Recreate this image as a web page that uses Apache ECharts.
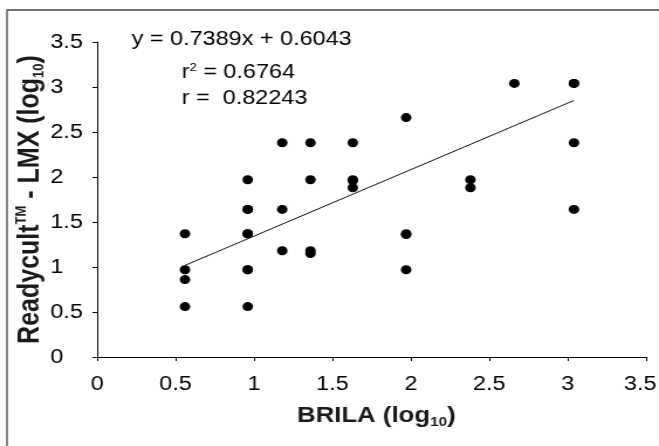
<!DOCTYPE html>
<html>
<head>
<meta charset="utf-8">
<script src="https://cdn.jsdelivr.net/npm/echarts@6/dist/echarts.min.js"></script>
<style>
html,body{margin:0;padding:0;background:#fff;overflow:hidden;}
#wrap{width:659px;height:446px;overflow:hidden;position:relative;}
#chart{width:575px;height:446px;transform:scaleX(1.1705);transform-origin:0 0;}
</style>
</head>
<body>
<div id="wrap"><div id="chart"></div></div>
<script>
// Data (log10 values)
const brilaX = [0.56,0.56,0.56,0.56,
  0.96,0.96,0.96,0.96,0.96,0.96,0.96,0.96,
  1.18,1.18,1.18,
  1.36,1.36,1.36,1.36,
  1.63,1.63,1.63,1.63,
  1.97,1.97,1.97,1.97,
  2.38,2.38,
  2.66,
  3.04,3.04,3.04,3.04];
const readycultY = [1.37,0.97,0.86,0.56,
  1.97,1.64,1.64,1.37,1.37,0.97,0.97,0.56,
  2.38,1.64,1.18,
  2.38,1.97,1.18,1.15,
  2.38,1.97,1.96,1.88,
  2.66,1.37,1.36,0.97,
  1.97,1.88,
  3.04,
  3.04,3.04,2.38,1.64];
const slope = 0.7389;
const intercept = 0.6043;
const rSquared = '0.6764';
const rValue = '0.82243';
const axisTicks = [0,0.5,1,1.5,2,2.5,3,3.5];

const pts = brilaX.map((x,i)=>[x, readycultY[i]]);
const xMin = Math.min(...brilaX), xMax = Math.max(...brilaX);
const fitLine = [[xMin, slope*xMin+intercept],[xMax, slope*xMax+intercept]];
const axisMax = axisTicks[axisTicks.length-1];

const FONT = '"Liberation Sans", Arial, sans-serif';
const TXT = '#000';
const chart = echarts.init(document.getElementById('chart'));
const axisCommon = {
  type:'value', min:axisTicks[0], max:axisMax, interval:0.5,
  axisLine:{show:true, onZero:false, lineStyle:{color:'#000', width:1}},
  axisTick:{show:true, inside:false, length:4, lineStyle:{color:'#000', width:1}},
  splitLine:{show:false},
  axisLabel:{fontFamily:FONT, fontSize:20, color:TXT}
};
const titleRich = {
  b:{fontFamily:FONT, fontWeight:'bold', fontSize:25, color:'#1a1a1a', lineHeight:28},
  sup:{fontFamily:FONT, fontWeight:'bold', fontSize:13, color:'#1a1a1a', lineHeight:14, verticalAlign:'top'},
  sub:{fontFamily:FONT, fontWeight:'bold', fontSize:13, color:'#1a1a1a', lineHeight:12, verticalAlign:'bottom'}
};
const xRich = {
  b:{fontFamily:FONT, fontWeight:'bold', fontSize:22, color:'#1a1a1a', lineHeight:26},
  sub:{fontFamily:FONT, fontWeight:'bold', fontSize:13, color:'#1a1a1a', lineHeight:12, verticalAlign:'bottom'}
};
chart.setOption({
  animation:false,
  backgroundColor:'#fff',
  grid:{left:83, right:23, top:42, bottom:89, containLabel:false, outerBoundsMode:'none'},
  xAxis:Object.assign({}, axisCommon, {
    axisLabel:Object.assign({}, axisCommon.axisLabel, {margin:17,
      formatter:function(v){ return v === axisMax ? '{m|' + v + '}' : String(v); },
      rich:{m:{fontFamily:FONT, fontSize:20, color:TXT, padding:[0,10,0,0]}}}),
    name:'{b|BRILA (log}{sub|10}{b|)}', nameLocation:'middle', nameGap:46,
    nameTextStyle:{rich:xRich, padding:[0,0,0,8]}
  }),
  yAxis:Object.assign({}, axisCommon, {
    axisLabel:Object.assign({}, axisCommon.axisLabel, {margin:40, align:'left'}),
    name:'{b|Readycult}{sup|TM}{b| - LMX (log}{sub|10}{b|)}', nameLocation:'middle', nameGap:43, nameRotate:90,
    nameMoveOverlap:false,
    nameTextStyle:{rich:titleRich}
  }),
  graphic:[
    {type:'rect', silent:true, shape:{x:6, y:10, width:700, height:600}, style:{fill:'none', stroke:'#444', lineWidth:1.3}, z:-1},
    {type:'text', x:112.5, y:39, style:{text:'y = ' + slope + 'x + ' + intercept, font:'20px ' + FONT, fill:TXT, verticalAlign:'middle'}},
    {type:'text', x:155.3, y:72, style:{text:'r{sup|2} = ' + rSquared, font:'20px ' + FONT, fill:TXT, verticalAlign:'middle',
      rich:{sup:{fontFamily:FONT, fontSize:11, fill:TXT, lineHeight:12, verticalAlign:'top'}}}},
    {type:'text', x:155.3, y:98, style:{text:'r =  ' + rValue, font:'20px ' + FONT, fill:TXT, verticalAlign:'middle'}}
  ],
  series:[
    {type:'scatter', data:pts, symbol:'circle', symbolSize:9, itemStyle:{color:'#000', opacity:1}, z:3},
    {type:'line', data:fitLine, showSymbol:false, symbol:'none', lineStyle:{color:'#111', width:1}, z:2}
  ]
});
</script>
</body>
</html>
